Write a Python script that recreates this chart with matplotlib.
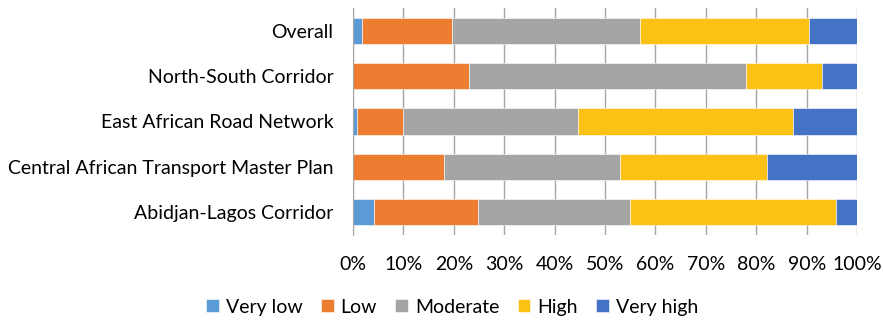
import matplotlib
matplotlib.use('Agg')
import matplotlib.pyplot as plt
import numpy as np

plt.rcParams['font.family'] = ['Lato', 'DejaVu Sans']

# Data (shares in %)
projects = ['Overall', 'North-South Corridor', 'East African Road Network',
            'Central African Transport Master Plan', 'Abidjan-Lagos Corridor']
levels = ['Very low', 'Low', 'Moderate', 'High', 'Very high']
very_low = [1.7, 0.0, 0.8, 0.0, 4.2]
low = [18.0, 23.0, 9.1, 18.0, 20.6]
moderate = [37.2, 54.9, 34.7, 35.0, 30.2]
high = [33.6, 15.1, 42.7, 29.1, 40.8]
very_high = [9.5, 7.0, 12.7, 17.9, 4.2]
colors = ['#5B9BD5', '#ED7D31', '#A5A5A5', '#FBC115', '#4472C4']

fig = plt.figure(figsize=(8.83, 3.2), dpi=100)
ax = fig.add_axes([0.3998, 0.266, 0.5708, 0.709])

y = np.arange(len(projects))
left = np.zeros(len(projects))
for name, vals, c in zip(levels, [very_low, low, moderate, high, very_high], colors):
    vals = np.array(vals)
    ax.barh(y, vals, left=left, height=0.58, color=c, label=name,
            edgecolor='white', linewidth=0.4, zorder=3)
    left += vals

fs = 14
ax.set_ylim(len(projects) - 0.5, -0.5)
ax.set_xlim(0, 100)
ax.set_yticks(y)
ax.set_yticklabels(projects, fontsize=fs)
ax.set_xticks(np.arange(0, 101, 10))
ax.set_xticklabels([f'{v}%' for v in range(0, 101, 10)], fontsize=fs)
ax.tick_params(axis='y', length=0, pad=14)
ax.tick_params(axis='x', length=0, pad=15)
ax.grid(axis='x', color='#A6A6A6', linewidth=1, zorder=0)
for s in ['top', 'right', 'bottom']:
    ax.spines[s].set_visible(False)
ax.spines['left'].set_color('#A6A6A6')
ax.spines['left'].set_zorder(4)

fig.legend(loc='center', bbox_to_anchor=(0.512, 0.04), ncol=5, frameon=False,
           fontsize=fs, handlelength=0.65, handleheight=0.65, handletextpad=0.35,
           columnspacing=0.95)

fig.savefig('out.png', dpi=100)
